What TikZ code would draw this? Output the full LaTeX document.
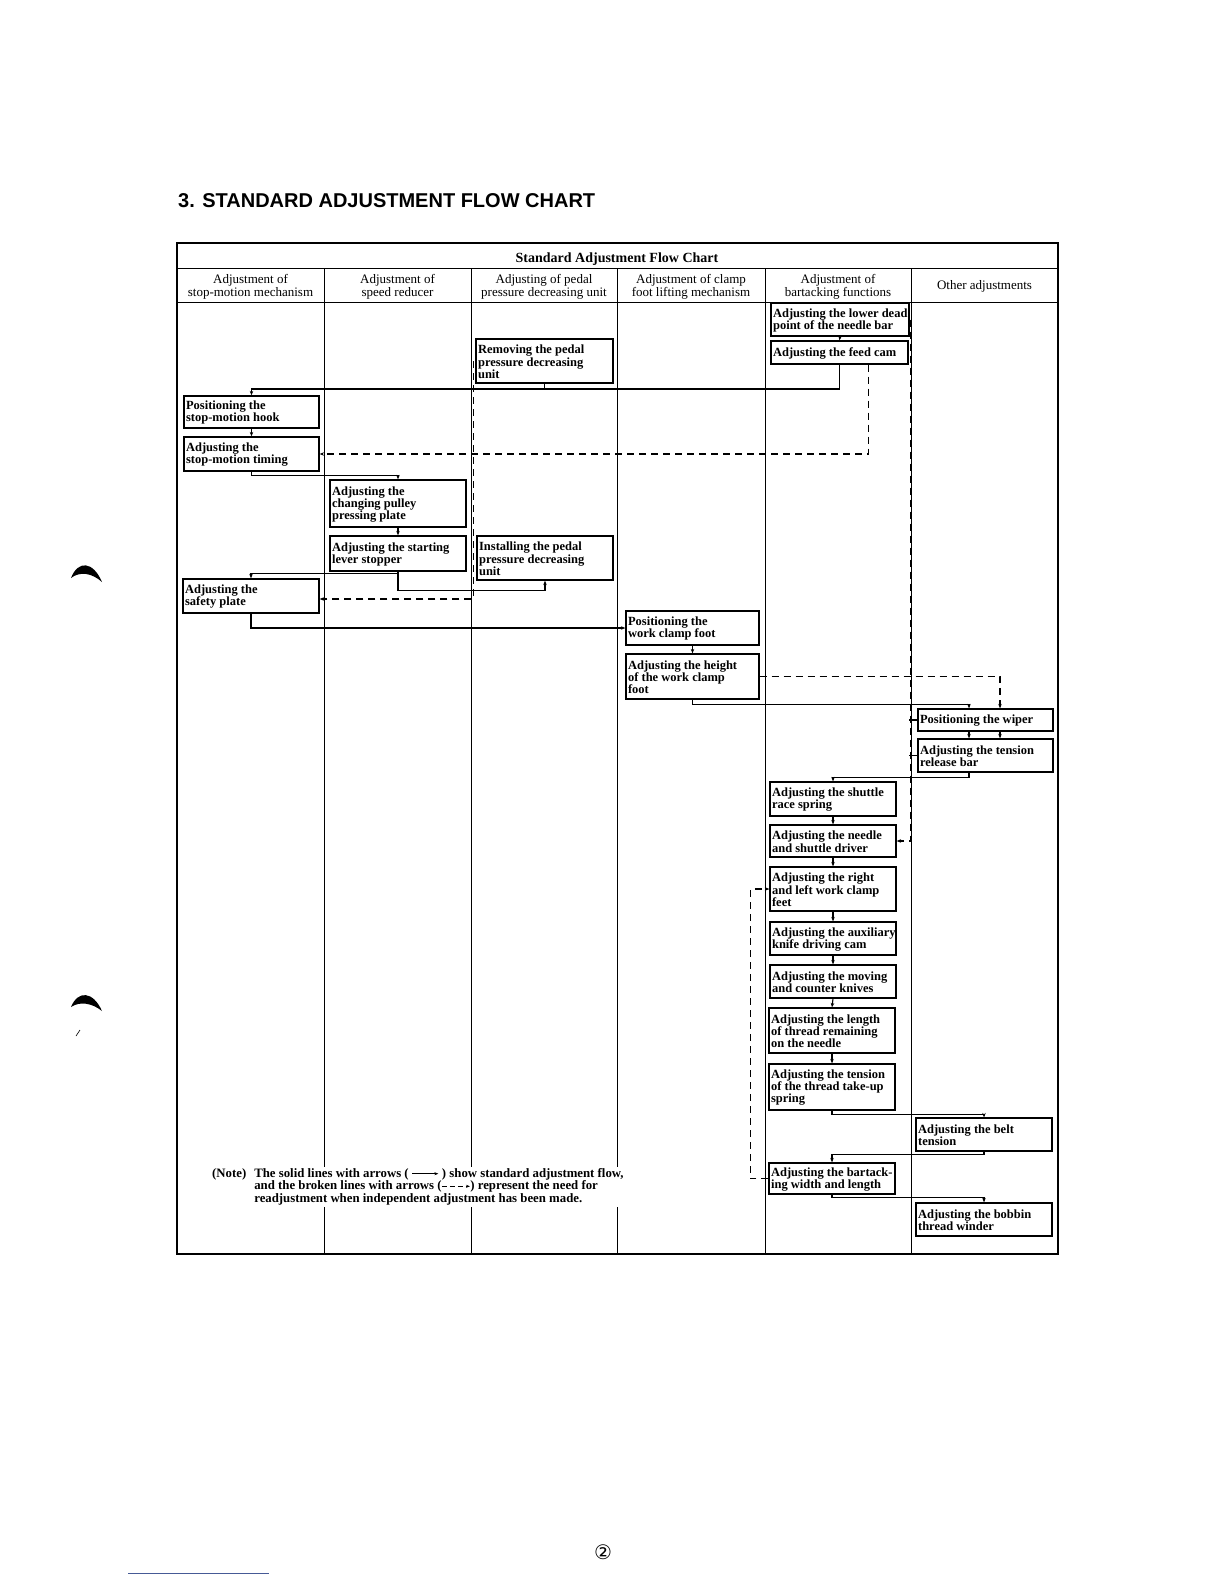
\documentclass[tikz,border=0pt]{standalone}
\usepackage{fontspec}
\setmainfont{Liberation Serif}
\newfontfamily\titlefont{Liberation Sans}
\newfontfamily\dejavufont{DejaVu Sans}
\usetikzlibrary{arrows.meta,calc}
\tikzset{
  box/.style={draw, line width=1.25pt, inner sep=0pt, rectangle},
  boxtext/.style={inner sep=0pt, align=left, font=\bfseries\fontsize{12.5}{12.2}\selectfont},
  hdr/.style={inner sep=0pt, align=center, font=\fontsize{13}{13}\selectfont},
  conn/.style={line width=1.1pt},
  flow/.style={conn, -{Stealth[length=4.5pt,width=3.5pt]}},
  dconn/.style={line width=1.1pt, dash pattern=on 7pt off 5pt},
  dflow/.style={dconn, -{Stealth[length=4.5pt,width=3.5pt]}},
  tableline/.style={line width=1pt},
  outerline/.style={line width=1.4pt},
}
\newcommand\adjbox[6]{%
  \node[box, minimum width={(#4-#2)*1pt}, minimum height={(#5-#3)*1pt}] (#1) at ({(#2+#4)/2},{(#3+#5)/2}) {};
  \node[boxtext, anchor=west] (#1-t) at ([xshift=2.5pt,yshift=-0.8pt]#1.west) {#6};}
\begin{document}
\begin{tikzpicture}[x=1pt,y=-1pt]
\fill[white] (0,0) rectangle (1224,1584);
\useasboundingbox (0,0) rectangle (1224,1584);

% title
\node[anchor=base west, inner sep=0pt, font=\titlefont\bfseries\fontsize{20}{22}\selectfont] (title) at (178,207) {3. STANDARD ADJUSTMENT FLOW CHART};

% table
\draw[outerline] (177,243) rectangle (1058,1254);
\draw[tableline] (177,268) -- (1058,268);
\draw[tableline] (177,302) -- (1058,302);
\foreach \x in {324,471,617,765,911} \draw[tableline] (\x,268) -- (\x,1254);

\node[inner sep=0pt, font=\bfseries\fontsize{14}{14}\selectfont] (charttitle) at (617,259) {Standard Adjustment Flow Chart};
\node[hdr] (h1) at (250.5,286.5) {Adjustment of\\stop-motion mechanism};
\node[hdr] (h2) at (397.5,286.5) {Adjustment of\\speed reducer};
\node[hdr] (h3) at (544,286.5) {Adjusting of pedal\\pressure decreasing unit};
\node[hdr] (h4) at (691,286.5) {Adjustment of clamp\\foot lifting mechanism};
\node[hdr] (h5) at (838,286.5) {Adjustment of\\bartacking functions};
\node[hdr] (h6) at (984.5,286) {Other adjustments};

% boxes
\adjbox{lowdead}{771}{303}{909}{336}{Adjusting the lower dead\\point of the needle bar}
\adjbox{feedcam}{771}{341}{908}{364}{Adjusting the feed cam}
\adjbox{removing}{476}{339}{613}{383}{Removing the pedal\\pressure decreasing\\unit}
\adjbox{hook}{184}{396}{319}{428}{Positioning the\\stop-motion hook}
\adjbox{timing}{184}{437}{319}{471}{Adjusting the\\stop-motion timing}
\adjbox{pulley}{330}{480}{466}{527}{Adjusting the\\changing pulley\\pressing plate}
\adjbox{starting}{330}{536}{466}{571}{Adjusting the starting\\lever stopper}
\adjbox{installing}{477}{536}{613}{580}{Installing the pedal\\pressure decreasing\\unit}
\adjbox{safety}{183}{579}{319}{613}{Adjusting the\\safety plate}
\adjbox{posclamp}{626}{611}{759}{645}{Positioning the\\work clamp foot}
\adjbox{height}{626}{654}{759}{699}{Adjusting the height\\of the work clamp\\foot}
\adjbox{wiper}{918}{709}{1053}{731}{Positioning the wiper}
\adjbox{tension}{918}{739}{1053}{772}{Adjusting the tension\\release bar}
\adjbox{shuttle}{770}{782}{896}{816}{Adjusting the shuttle\\race spring}
\adjbox{needle}{770}{825}{896}{857}{Adjusting the needle\\and shuttle driver}
\adjbox{rlclamp}{770}{867}{896}{911}{Adjusting the right\\and left work clamp\\feet}
\adjbox{auxknife}{770}{922}{896}{955}{Adjusting the auxiliary\\knife driving cam}
\adjbox{knives}{770}{965}{896}{998}{Adjusting the moving\\and counter knives}
\adjbox{threadlen}{769}{1008}{895}{1053}{Adjusting the length\\of thread remaining\\on the needle}
\adjbox{takeup}{769}{1064}{895}{1110}{Adjusting the tension\\of the thread take-up\\spring}
\adjbox{belt}{916}{1118}{1052}{1151}{Adjusting the belt\\tension}
\adjbox{bartack}{769}{1163}{895}{1194}{Adjusting the bartack-\\ing width and length}
\adjbox{bobbin}{916}{1203}{1052}{1236}{Adjusting the bobbin\\thread winder}

% solid flow
\coordinate (yA) at (0,389);
\draw[flow] (lowdead.south) -- (feedcam.north);
\draw[flow] (feedcam.south) -- (feedcam.south |- yA) -| (hook.north);
\draw[conn] (removing.south) -- (removing.south |- yA);
\draw[flow] (hook.south) -- (timing.north);
\draw[flow] (timing.south) -- ++(0,4) -| (pulley.north);
\draw[flow] (pulley.south) -- (starting.north);
\draw[flow] (starting.south) -- ++(0,19) -| (installing.south);
\draw[flow] ([yshift=-2pt]starting.south) -| (safety.north);
\draw[flow] (safety.south) |- (posclamp.west);
\draw[flow] (posclamp.south) -- (height.north);
\draw[flow] (height.south) -- ++(0,5) -| ([xshift=-16.5pt]wiper.north);
\draw[flow] ([xshift=-16.5pt]wiper.south) -- ([xshift=-16.5pt]tension.north);
\draw[flow] ([xshift=-16.5pt]tension.south) -- ++(0,5) -| (shuttle.north);
\draw[flow] (shuttle.south) -- (needle.north);
\draw[flow] (needle.south) -- (rlclamp.north);
\draw[flow] (rlclamp.south) -- (auxknife.north);
\draw[flow] (auxknife.south) -- (knives.north);
\draw[flow] (knives.south) -- (threadlen.north);
\draw[flow] (threadlen.south) -- (takeup.north);
\draw[flow] (takeup.south) -- ++(0,4) -| (belt.north);
\draw[flow] (belt.south) -- ++(0,3) -| (bartack.north);
\draw[flow] (bartack.south) -- ++(0,3) -| (bobbin.north);

% broken (readjustment) lines
\draw[dflow] ([xshift=29pt]feedcam.south) |- (timing.east);
\draw[dflow] ([xshift=-2pt]removing.west) |- ([yshift=-3pt]safety.east);
\draw[dflow] ([xshift=1pt]lowdead.east) |- (needle.east);
\draw[conn] ([xshift=-8pt]wiper.west) -- (wiper.west);
\draw[conn] ([xshift=-8pt]tension.west) -- (tension.west);
\draw[dflow] (height.east) -| ([xshift=14.5pt]wiper.north);
\draw[dflow] ([xshift=14.5pt]wiper.south) -- ([xshift=14.5pt]tension.north);
\draw[dflow] (bartack.west) -- ++(-18,0) |- (rlclamp.west);

% note
\node[anchor=north west, fill=white, inner sep=1pt, font=\bfseries\fontsize{12.8}{12}\selectfont] (note) at (211,1167)
{\begin{tabular}{@{}l@{\hspace{8pt}}l@{}}
(Note) & The solid lines with arrows ( \tikz[baseline=-0.6ex]\draw[line width=0.8pt,-{Stealth[length=4pt,width=3pt]}] (0,0) -- (26pt,0); ) show standard adjustment flow,\\
 & and the broken lines with arrows (\tikz[baseline=-0.6ex]\draw[line width=0.8pt,dash pattern=on 5pt off 3pt,-{Stealth[length=4pt,width=3pt]}] (0,0) -- (28pt,0);) represent the need for\\
 & readjustment when independent adjustment has been made.
\end{tabular}};

% page number
\node[inner sep=0pt, font=\dejavufont\fontsize{20}{20}\selectfont] (pgnum) at (603,1552) {②};

% scan marks
\fill (71,578) .. controls (78,560) and (93,561) .. (102,582) .. controls (92,573) and (80,571) .. (71,578) -- cycle;
\fill (71,1007) .. controls (78,990) and (93,991) .. (102,1011) .. controls (92,1003) and (80,1001) .. (71,1007) -- cycle;
\draw[line width=0.6pt] (76,1036) -- (80,1030);
\draw[line width=0.8pt, color={rgb,255:red,70;green,90;blue,150}] (128,1573) -- (269,1573);
\end{tikzpicture}
\end{document}
